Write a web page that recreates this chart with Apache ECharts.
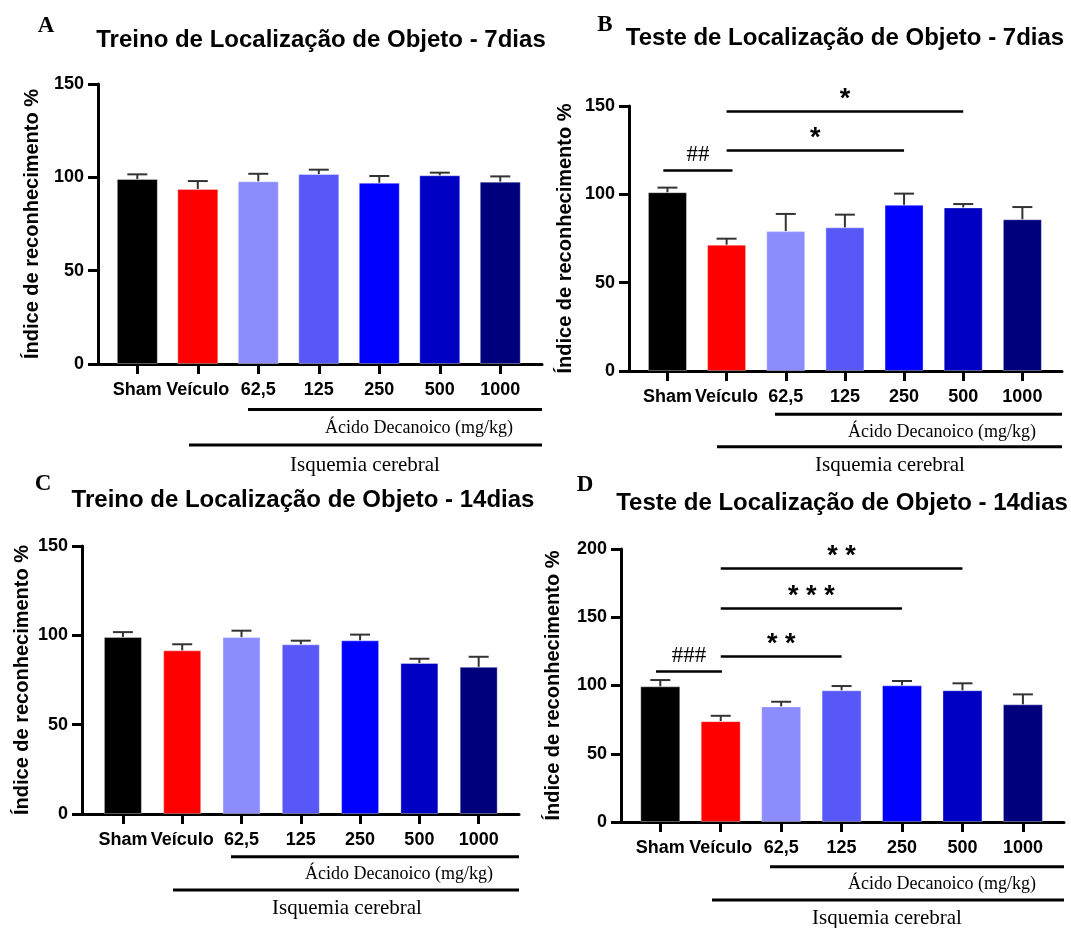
<!DOCTYPE html>
<html>
<head>
<meta charset="utf-8">
<script src="https://cdn.jsdelivr.net/npm/echarts@6/dist/echarts.min.js"></script>
<style>html,body{margin:0;padding:0;background:#fff;}#c{width:1071px;height:928px;}</style>
</head>
<body>
<div id="c"></div>
<script>
// ---------- data ----------
const categories = ['Sham', 'Veículo', '62,5', '125', '250', '500', '1000'];
const barColors = ['#000000', '#ff0000', '#8c8cff', '#5858f8', '#0000ff', '#0000c4', '#00007c'];

const meansA = [99.1, 93.8, 97.9, 101.8, 97.1, 101.1, 97.7];
const errA   = [2.5, 4.2, 4.0, 2.3, 3.6, 1.4, 2.8];
const meansB = [101.2, 71.5, 79.2, 81.3, 94.1, 92.6, 85.9];
const errB   = [2.6, 3.4, 9.7, 7.2, 6.3, 1.9, 6.9];
const meansC = [99.1, 91.6, 99.0, 95.0, 97.2, 84.5, 82.4];
const errC   = [2.7, 3.4, 3.6, 2.0, 3.2, 2.4, 5.6];
const meansD = [99.4, 73.9, 84.7, 96.5, 100.1, 96.5, 86.2];
const errD   = [4.6, 3.9, 3.4, 3.1, 3.2, 5.1, 7.3];

const yMaxABC = 150;
const yMaxD = 200;
const yStep = 50;

// significance brackets: from / to (category positions), height, text
const sigFromB = [-0.07, 1, 1];
const sigToB   = [1.1, 4, 5];
const sigYB    = [113.8, 125.2, 147.1];
const sigTxtB  = ['##', '*', '*'];
const sigFromD = [-0.07, 1, 1, 1];
const sigToD   = [1.02, 3, 4, 5];
const sigYD    = [110.4, 121.7, 156.9, 186];
const sigTxtD  = ['###', '* *', '* * *', '* *'];

const titles = [
  'Treino de Localização de Objeto - 7dias',
  'Teste de Localização de Objeto - 7dias',
  'Treino de Localização de Objeto - 14dias',
  'Teste de Localização de Objeto - 14dias'
];
const letters = ['A', 'B', 'C', 'D'];
const yName = 'Índice de reconhecimento %';
const doseLabel = 'Ácido Decanoico (mg/kg)';
const groupLabel = 'Isquemia cerebral';

// ---------- build ----------
const SANS = 'Liberation Sans, Arial, sans-serif';
const SERIF = 'Liberation Serif, Times New Roman, serif';
const catPos = categories.map((_, i) => i);

const panels = [
  { grid: { left: 98, top: 84, width: 444, height: 280 }, xmin: -0.65, xmax: 6.69, ymax: yMaxABC, means: meansA, errs: errA, barW: 41, gap: 56 },
  { grid: { left: 629, top: 106, width: 433, height: 265 }, xmin: -0.65, xmax: 6.67, ymax: yMaxABC, means: meansB, errs: errB, barW: 39, gap: 54 },
  { grid: { left: 82, top: 546, width: 437, height: 268 }, xmin: -0.69, xmax: 6.68, ymax: yMaxABC, means: meansC, errs: errC, barW: 38, gap: 50 },
  { grid: { left: 621, top: 549, width: 443, height: 273 }, xmin: -0.65, xmax: 6.68, ymax: yMaxD, means: meansD, errs: errD, barW: 40, gap: 58 }
];

function renderErr(params, api) {
  const x = api.value(0), m = api.value(1), e = api.value(2);
  const p0 = api.coord([x, m]);
  const p1 = api.coord([x, m + e]);
  const st = { stroke: '#333', lineWidth: 2 };
  return {
    type: 'group',
    children: [
      { type: 'line', shape: { x1: p0[0], y1: p0[1], x2: p1[0], y2: p1[1] }, style: st },
      { type: 'line', shape: { x1: p1[0] - 10, y1: p1[1], x2: p1[0] + 10, y2: p1[1] }, style: st }
    ]
  };
}

function sigMarkLine(from, to, ys, txts) {
  return {
    silent: true,
    symbol: ['none', 'none'],
    animation: false,
    lineStyle: { color: '#000', width: 2.5, type: 'solid' },
    data: from.map((f, i) => {
      const isHash = txts[i].indexOf('#') >= 0;
      return [
        {
          coord: [f, ys[i]],
          label: {
            show: true, position: 'middle', formatter: txts[i],
            color: '#000',
            fontFamily: isHash ? SERIF : SANS,
            fontWeight: isHash ? 'normal' : 'bold',
            fontSize: isHash ? 23 : 27,
            distance: isHash ? 4 : -2
          }
        },
        { coord: [to[i], ys[i]] }
      ];
    })
  };
}

const grids = [], xAxes = [], yAxes = [], series = [];
panels.forEach((p, k) => {
  grids.push(p.grid);
  xAxes.push({
    type: 'value', gridIndex: k, min: p.xmin, max: p.xmax,
    axisLine: { show: true, onZero: false, lineStyle: { color: '#000', width: 3 } },
    axisTick: { show: true, customValues: catPos, length: 10, lineStyle: { color: '#000', width: 3 } },
    axisLabel: {
      show: true, customValues: catPos, margin: 17,
      formatter: v => categories[Math.round(v)],
      color: '#000', fontFamily: SANS, fontWeight: 'bold', fontSize: 18
    },
    splitLine: { show: false }
  });
  yAxes.push({
    type: 'value', gridIndex: k, min: 0, max: p.ymax, interval: yStep,
    name: yName, nameLocation: 'middle', nameGap: p.gap,
    nameTextStyle: { color: '#000', fontFamily: SANS, fontWeight: 'bold', fontSize: 20 },
    axisLine: { show: true, onZero: false, lineStyle: { color: '#000', width: 3 } },
    axisTick: { show: true, length: 10, lineStyle: { color: '#000', width: 3 } },
    axisLabel: { color: '#000', fontFamily: SANS, fontWeight: 'bold', fontSize: 18, margin: 14 },
    splitLine: { show: false }
  });
  series.push({
    type: 'bar', xAxisIndex: k, yAxisIndex: k, barWidth: p.barW,
    data: p.means.map((m, i) => ({ value: [catPos[i], m], itemStyle: { color: barColors[i] } })),
    itemStyle: { borderColor: 'rgba(255,255,255,0.35)', borderWidth: 1 }
  });
  const errSeries = {
    type: 'custom', xAxisIndex: k, yAxisIndex: k, z: 5,
    renderItem: renderErr,
    data: p.means.map((m, i) => [catPos[i], m, p.errs[i]])
  };
  if (k === 1) errSeries.markLine = sigMarkLine(sigFromB, sigToB, sigYB, sigTxtB);
  if (k === 3) errSeries.markLine = sigMarkLine(sigFromD, sigToD, sigYD, sigTxtD);
  series.push(errSeries);
});

// panel annotations (titles, letters, grouping lines)
const ann = [
  { letter: [46, 26], title: [321, 40], l1: [248, 542, 409.5], t1: [419, 428], l2: [189, 542, 445], t2: [365, 465] },
  { letter: [605, 25], title: [845, 38], l1: [775, 1062, 414.3], t1: [942, 432], l2: [717, 1062, 446.7], t2: [890, 465] },
  { letter: [43, 484], title: [303, 500], l1: [231, 519, 856.7], t1: [399, 874], l2: [173, 519, 890], t2: [347, 908] },
  { letter: [585, 485], title: [842, 503], l1: [770, 1064, 866.7], t1: [942, 884], l2: [712, 1064, 900], t2: [887, 918] }
];
const graphic = [];
ann.forEach((a, k) => {
  graphic.push({ type: 'text', x: a.letter[0], y: a.letter[1],
    style: { text: letters[k], font: 'bold 23px ' + SERIF, fill: '#000', textAlign: 'center', textVerticalAlign: 'middle' } });
  graphic.push({ type: 'text', x: a.title[0], y: a.title[1],
    style: { text: titles[k], font: 'bold 24px ' + SANS, fill: '#000', textAlign: 'center', textVerticalAlign: 'middle' } });
  graphic.push({ type: 'line', shape: { x1: a.l1[0], y1: a.l1[2], x2: a.l1[1], y2: a.l1[2] }, style: { stroke: '#000', lineWidth: 3 } });
  graphic.push({ type: 'text', x: a.t1[0], y: a.t1[1],
    style: { text: doseLabel, font: '18px ' + SERIF, fill: '#000', textAlign: 'center', textVerticalAlign: 'middle' } });
  graphic.push({ type: 'line', shape: { x1: a.l2[0], y1: a.l2[2], x2: a.l2[1], y2: a.l2[2] }, style: { stroke: '#000', lineWidth: 3 } });
  graphic.push({ type: 'text', x: a.t2[0], y: a.t2[1],
    style: { text: groupLabel, font: '21px ' + SERIF, fill: '#000', textAlign: 'center', textVerticalAlign: 'middle' } });
});

const chart = echarts.init(document.getElementById('c'), null, { renderer: 'canvas' });
chart.setOption({
  animation: false,
  backgroundColor: '#ffffff',
  grid: grids,
  xAxis: xAxes,
  yAxis: yAxes,
  series: series,
  graphic: graphic
});
</script>
</body>
</html>
